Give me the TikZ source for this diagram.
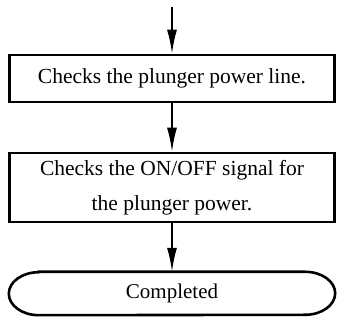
\documentclass[tikz,border=0pt]{standalone}
\usepackage{fontspec}
\setmainfont{Liberation Serif}
\usetikzlibrary{arrows.meta}
\begin{document}
\begin{tikzpicture}[x=1pt,y=-1pt,
  procbox/.style={draw,line width=2.6pt,minimum width=325pt,inner sep=0pt,align=center,
    font=\fontsize{21.5}{35}\selectfont},
  termbox/.style={minimum width=326pt,minimum height=43pt,inner sep=0pt,
    font=\fontsize{21}{35}\selectfont},
  termline/.style={line width=2.6pt},
  flow/.style={line width=1.8pt,-{Latex[length=24pt,width=10pt]}}]
\useasboundingbox (0,0) rectangle (338,320);
\coordinate (start) at (172,7);
\node[procbox,minimum height=47pt] (box1) at (172,78.5) {Checks the plunger power line.};
\node[procbox,minimum height=69pt] (box2) at (172,187.5) {Checks the ON/OFF signal for\\the plunger power.};
\node[termbox] (term) at (172,293.5) {Completed};
\draw[termline] ([xshift=30pt]term.north west) -- ([xshift=-30pt]term.north east)
  arc[start angle=90,end angle=-90,x radius=30pt,y radius=21.5pt]
  -- ([xshift=30pt]term.south west)
  arc[start angle=270,end angle=90,x radius=30pt,y radius=21.5pt] -- cycle;
\draw[flow] (start) -- (box1.north);
\draw[flow] (box1.south) -- (box2.north);
\draw[flow] (box2.south) -- (term.north);
\end{tikzpicture}
\end{document}
